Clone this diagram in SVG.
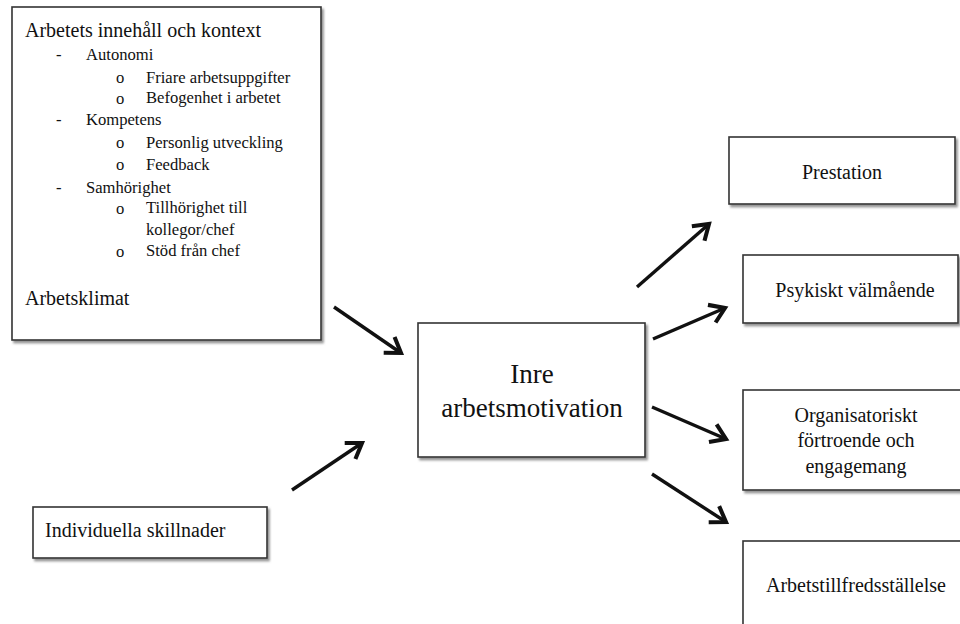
<svg xmlns="http://www.w3.org/2000/svg" width="960" height="624" viewBox="0 0 960 624">
<style>
.box{fill:#fff;stroke:#333;stroke-width:1.6;filter:url(#sh)}
.t{font-family:'Liberation Serif','DejaVu Serif',serif;fill:#111}
.h{font-size:20px}
.s{font-size:16.6px}
.c{text-anchor:middle;font-size:20px}
.big{text-anchor:middle;font-size:27px}
.arr{stroke:#111;stroke-width:3.4;fill:none;marker-end:url(#ah)}
</style>
<defs>
<filter id="sh" x="-5%" y="-5%" width="115%" height="120%">
<feDropShadow dx="2" dy="2.5" stdDeviation="1.3" flood-color="#777" flood-opacity="0.8"/>
</filter>
<marker id="ah" markerUnits="userSpaceOnUse" markerWidth="24" markerHeight="24" viewBox="-14 -10 18 20" refX="0" refY="0" orient="auto">
<path d="M-12,-8 L0,0 L-12,8" fill="none" stroke="#111" stroke-width="3.4" stroke-linejoin="miter"/>
</marker>
</defs>
<g id="n-kontext" class="t">
<rect class="box" x="12" y="7" width="309" height="333"/>
<text class="h" x="25" y="37">Arbetets innehåll och kontext</text>
<text class="s" x="56" y="60">-</text><text class="s" x="86" y="60">Autonomi</text>
<text class="s" x="116" y="83">o</text><text class="s" x="146" y="83">Friare arbetsuppgifter</text>
<text class="s" x="116" y="104">o</text><text class="s" x="146" y="103">Befogenhet i arbetet</text>
<text class="s" x="56" y="125">-</text><text class="s" x="86" y="125">Kompetens</text>
<text class="s" x="116" y="148">o</text><text class="s" x="146" y="148">Personlig utveckling</text>
<text class="s" x="116" y="170">o</text><text class="s" x="146" y="170">Feedback</text>
<text class="s" x="56" y="193">-</text><text class="s" x="86" y="193">Samhörighet</text>
<text class="s" x="116" y="214">o</text><text class="s" x="146" y="213">Tillhörighet till</text>
<text class="s" x="146" y="235">kollegor/chef</text>
<text class="s" x="116" y="257">o</text><text class="s" x="146" y="256">Stöd från chef</text>
<text class="h" x="25" y="305">Arbetsklimat</text>
</g>
<g id="n-individ" class="t">
<rect class="box" x="33" y="507" width="234" height="51"/>
<text class="h" x="45" y="537">Individuella skillnader</text>
</g>
<g id="n-inre" class="t">
<rect class="box" x="418" y="323" width="227" height="134"/>
<text class="big" x="532" y="383">Inre</text>
<text class="big" x="532" y="417">arbetsmotivation</text>
</g>
<g id="n-prestation" class="t">
<rect class="box" x="729" y="137" width="226" height="67"/>
<text class="c" x="842" y="179">Prestation</text>
</g>
<g id="n-psykiskt" class="t">
<rect class="box" x="743" y="255" width="215" height="68"/>
<text class="c" x="855" y="297">Psykiskt välmående</text>
</g>
<g id="n-org" class="t">
<rect class="box" x="743" y="390" width="225" height="100"/>
<text class="c" x="856" y="422">Organisatoriskt</text>
<text class="c" x="856" y="447">förtroende och</text>
<text class="c" x="856" y="473">engagemang</text>
</g>
<g id="n-arbetstillf" class="t">
<rect class="box" x="743" y="541" width="225" height="95"/>
<text class="c" x="856" y="592">Arbetstillfredsställelse</text>
</g>
<g id="connectors">
<line class="arr" x1="334" y1="307" x2="401" y2="353"/>
<line class="arr" x1="292" y1="490" x2="362" y2="443"/>
<line class="arr" x1="637" y1="287" x2="709" y2="224"/>
<line class="arr" x1="653" y1="339" x2="725" y2="308"/>
<line class="arr" x1="652" y1="407" x2="726" y2="439"/>
<line class="arr" x1="652" y1="474" x2="726" y2="522"/>
</g>
</svg>
